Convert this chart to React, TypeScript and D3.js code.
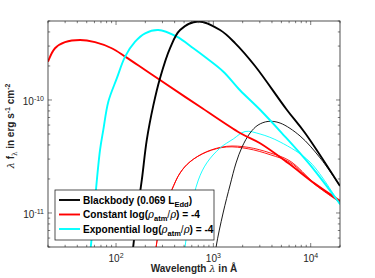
import React from 'react';
import * as d3 from 'd3';

const W = 375;
const H = 278;
const margin = { top: 21, right: 35, bottom: 31, left: 48 };
const FONT = '"Liberation Sans", Arial, Helvetica, sans-serif';

// tick values and their exponent labels
const xMajor = [100, 1000, 10000];
const xMajorExp = ['2', '3', '4'];
const yMajor = [1e-11, 1e-10];
const yMajorExp = ['-11', '-10'];

// Blackbody (0.069 L_Edd), thick and thin
const bbLam = [140, 150, 163, 184, 207, 242, 283, 359, 455, 697, 1172, 1671, 2680, 5680, 8750, 20000];
const bbVal = [3.0e-12, 5.0e-12, 9.3e-12, 1.96e-11, 4.43e-11, 9.0e-11, 1.56e-10, 2.88e-10, 4.16e-10, 4.95e-10, 4.16e-10, 3.19e-10, 2.0e-10, 8.2e-11, 5.1e-11, 1.73e-11];
const bbThinLam = [1000, 1067, 1259, 1486, 1710, 1972, 2382, 2877, 3648, 4850, 7780, 12500, 20000];
const bbThinVal = [3.0e-12, 5.0e-12, 1.0e-11, 1.77e-11, 2.77e-11, 3.84e-11, 5.1e-11, 6.0e-11, 6.46e-11, 6.25e-11, 4.8e-11, 3.07e-11, 1.73e-11];

// Constant log(rho_atm/rho) = -4
const conLam = [20, 23.6, 29.9, 42.7, 60.8, 90.3, 124, 199, 283, 730, 1879, 3020, 5860, 11100, 20000];
const conVal = [2.18e-10, 2.87e-10, 3.25e-10, 3.4e-10, 3.25e-10, 2.87e-10, 2.42e-10, 1.84e-10, 1.5e-10, 8.7e-11, 5.1e-11, 4.14e-11, 2.77e-11, 1.81e-11, 1.28e-11];
const conThinLam = [245, 258, 297, 374, 455, 576, 855, 1373, 2275, 3830, 6140, 11100, 20000];
const conThinVal = [3.5e-12, 5.0e-12, 9.6e-12, 1.6e-11, 2.26e-11, 2.84e-11, 3.49e-11, 3.89e-11, 3.81e-11, 3.4e-11, 2.88e-11, 1.81e-11, 1.25e-11];
const conThin2Val = [3.5e-12, 5.0e-12, 9.6e-12, 1.6e-11, 2.26e-11, 2.84e-11, 3.47e-11, 3.84e-11, 3.7e-11, 3.28e-11, 2.8e-11, 1.78e-11, 1.24e-11];

// Exponential log(rho_atm/rho) = -4
const expLam = [52, 55, 60.8, 68.5, 74, 83.3, 102, 124, 157, 199, 272, 421, 623, 855, 1268, 1879, 3020, 5050, 9860, 20000];
const expVal = [3.5e-12, 5.0e-12, 1.3e-11, 3.61e-11, 5.43e-11, 9.66e-11, 1.56e-10, 2.42e-10, 3.28e-10, 3.89e-10, 4.16e-10, 3.63e-10, 2.87e-10, 2.34e-10, 1.78e-10, 1.22e-10, 8.2e-11, 5.1e-11, 2.66e-11, 1.2e-11];
const expThinLam = [490, 512, 576, 701, 855, 1172, 1603, 2117, 3020, 4850, 9860, 20000];
const expThinVal = [3.5e-12, 5.0e-12, 1.0e-11, 1.96e-11, 2.77e-11, 3.76e-11, 4.52e-11, 5.26e-11, 5.0e-11, 4.25e-11, 2.82e-11, 1.18e-11];

const BLACK = '#000000';
const RED = '#ff0000';
const CYAN = '#00ffff';

export default function App() {
  const x = d3.scaleLog().domain([20, 20000]).range([margin.left, W - margin.right]);
  const y = d3.scaleLog().domain([5e-12, 5e-10]).range([H - margin.bottom, margin.top]);
  const pw = W - margin.left - margin.right;
  const ph = H - margin.top - margin.bottom;
  const x0 = margin.left;
  const x1 = W - margin.right;
  const y0 = margin.top;
  const y1 = H - margin.bottom;

  const line = d3
    .line<[number, number]>()
    .x(d => x(d[0]))
    .y(d => y(d[1]))
    .curve(d3.curveCatmullRom.alpha(0.5));

  const zip = (a: number[], b: number[]) => a.map((v, i) => [v, b[i]] as [number, number]);

  const series = [
    { d: zip(conThinLam, conThinVal), c: RED, w: 0.9 },
    { d: zip(conThinLam, conThin2Val), c: RED, w: 0.9 },
    { d: zip(expThinLam, expThinVal), c: CYAN, w: 0.9 },
    { d: zip(bbThinLam, bbThinVal), c: BLACK, w: 0.9 },
    { d: zip(conLam, conVal), c: RED, w: 1.9 },
    { d: zip(expLam, expVal), c: CYAN, w: 1.9 },
    { d: zip(bbLam, bbVal), c: BLACK, w: 1.9 },
  ];

  const xTicks = x.ticks();
  const yTicks = y.ticks();
  const isMajor = (v: number) => Math.abs(Math.log10(v) - Math.round(Math.log10(v))) < 1e-6;

  const legendRows = [
    { c: BLACK, kind: 'bb' },
    { c: RED, kind: 'con' },
    { c: CYAN, kind: 'exp' },
  ];
  const lx = 55, ly = 190, lw = 159, lh = 50;

  return (
    <svg width={W} height={H} style={{ position: 'absolute', left: 0, top: 0 }} fontFamily={FONT}>
      <rect x={0} y={0} width={W} height={H} fill="#fff" />
      <defs>
        <clipPath id="plot">
          <rect x={x0} y={y0} width={pw} height={ph} />
        </clipPath>
      </defs>
      <rect x={x0} y={y0} width={pw} height={ph} fill="#fff" />
      <g clipPath="url(#plot)">
        {series.map((s, i) => (
          <path key={i} d={line(s.d) || ''} fill="none" stroke={s.c} strokeWidth={s.w} />
        ))}
      </g>
      {/* ticks */}
      <g stroke="#262626" strokeWidth={0.6}>
        {xTicks.map((t, i) => {
          const len = isMajor(t) ? 4 : 2.2;
          const px = x(t);
          return (
            <g key={'xt' + i}>
              <line x1={px} x2={px} y1={y1} y2={y1 - len} />
              <line x1={px} x2={px} y1={y0} y2={y0 + len} />
            </g>
          );
        })}
        {yTicks.map((t, i) => {
          const len = isMajor(t) ? 4 : 2.2;
          const py = y(t);
          return (
            <g key={'yt' + i}>
              <line x1={x0} x2={x0 + len} y1={py} y2={py} />
              <line x1={x1} x2={x1 - len} y1={py} y2={py} />
            </g>
          );
        })}
      </g>
      <rect x={x0} y={y0} width={pw} height={ph} fill="none" stroke="#262626" strokeWidth={0.8} />
      {/* tick labels */}
      {xMajor.map((t, i) => (
        <text key={'xl' + i} x={x(t)} y={y1 + 15} textAnchor="middle" fontSize={10} fill="#262626">
          10<tspan dy={-4} fontSize={7}>{xMajorExp[i]}</tspan>
        </text>
      ))}
      {yMajor.map((t, i) => (
        <text key={'yl' + i} x={x0 - 4} y={y(t) + 5} textAnchor="end" fontSize={10} fill="#262626">
          10<tspan dy={-4} fontSize={7}>{yMajorExp[i]}</tspan>
        </text>
      ))}
      {/* axis labels */}
      <text x={(x0 + x1) / 2} y={272} textAnchor="middle" fontSize={10} fontWeight="bold" fill="#262626">
        Wavelength <tspan fontFamily="DejaVu Serif" fontWeight="normal" fontStyle="italic">λ</tspan> in Å
      </text>
      <text transform={`translate(14,${(y0 + y1) / 2 - 8}) rotate(-90)`} textAnchor="middle" fontSize={10} fontWeight="bold" fill="#262626">
        <tspan fontFamily="DejaVu Serif" fontWeight="normal" fontStyle="italic">λ</tspan> f<tspan dy={2.5} fontSize={7} fontFamily="DejaVu Serif" fontWeight="normal">λ</tspan>
        <tspan dy={-2.5}> in erg s</tspan><tspan dy={-4} fontSize={7}>-1</tspan><tspan dy={4}> cm</tspan><tspan dy={-4} fontSize={7}>-2</tspan>
      </text>
      {/* legend */}
      <rect x={lx} y={ly} width={lw} height={lh} fill="#fff" stroke="#262626" strokeWidth={0.8} />
      {legendRows.map((r, i) => {
        const ry = ly + 10 + i * 14.5;
        return (
          <g key={'lg' + i}>
            <line x1={lx + 4} x2={lx + 25} y1={ry} y2={ry} stroke={r.c} strokeWidth={1.9} />
            <text x={lx + 28} y={ry + 3.5} fontSize={10.1} fontWeight="bold" fill="#000">
              {r.kind === 'bb' && (
                <>
                  Blackbody (0.069 L<tspan dy={3} fontSize={7.5}>Edd</tspan><tspan dy={-3}>)</tspan>
                </>
              )}
              {r.kind !== 'bb' && (
                <>
                  {r.kind === 'con' ? 'Constant' : 'Exponential'} log(
                  <tspan fontFamily="DejaVu Serif" fontWeight="normal" fontStyle="italic">ρ</tspan>
                  <tspan dy={3} fontSize={7.5}>atm</tspan>
                  <tspan dy={-3} fontWeight="normal">/</tspan>
                  <tspan fontFamily="DejaVu Serif" fontWeight="normal" fontStyle="italic">ρ</tspan>) = -4
                </>
              )}
            </text>
          </g>
        );
      })}
    </svg>
  );
}
